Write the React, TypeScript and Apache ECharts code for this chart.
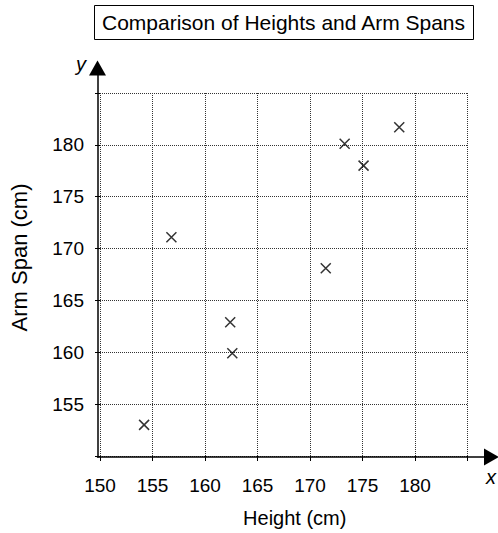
import React, { useEffect, useRef } from "react";
import * as echarts from "echarts";

const chartTitle = "Comparison of Heights and Arm Spans";
const xAxisName = "Height (cm)";
const yAxisName = "Arm Span (cm)";
const heights = [154.2, 156.8, 162.4, 162.6, 171.5, 173.3, 175.1, 178.5];
const armSpans = [153.0, 171.1, 162.9, 159.9, 168.1, 180.1, 178.0, 181.7];
const xRange = [150, 185];
const yRange = [150, 185];
const tickStep = 5;
const hiddenXTicks = [185];
const hiddenYTicks = [150, 185];

const FONT = "'Liberation Sans', Arial, sans-serif";

export default function App() {
  const ref = useRef<HTMLDivElement>(null);
  useEffect(() => {
    if (!ref.current) return;
    const chart = echarts.init(ref.current, null, { renderer: "svg" });
    const points = heights.map((h, i) => [h, armSpans[i]]);
    const gridLine = { show: true, lineStyle: { color: "#333", width: 1, type: [1, 1] } };
    const tick = { show: true, inside: false, length: 5, lineStyle: { color: "#000", width: 1 } };
    const plainAxisLine = {
      show: true,
      onZero: false,
      symbol: ["none", "triangle"],
      symbolSize: [17, 15],
      lineStyle: { color: "#000", width: 1.5 },
    };
    chart.setOption({
      animation: false,
      backgroundColor: "#fff",
      textStyle: { fontFamily: FONT },
      title: {
        text: chartTitle,
        left: 94,
        top: 5,
        padding: [7, 8, 7, 8],
        borderColor: "#000",
        borderWidth: 1,
        textStyle: { fontFamily: FONT, fontSize: 21, fontWeight: "normal", color: "#000" },
      },
      grid: [
        { left: 97.5, top: 93, right: 30.5, bottom: 76, containLabel: false },
        { left: 97.5, top: 68, right: 6.5, bottom: 76, containLabel: false },
      ],
      xAxis: [
        {
          gridIndex: 0,
          type: "value",
          min: xRange[0],
          max: xRange[1],
          interval: tickStep,
          axisLine: { show: false },
          axisTick: tick,
          splitLine: gridLine,
          axisLabel: {
            color: "#000",
            fontSize: 19,
            fontFamily: FONT,
            margin: 20,
            formatter: (v: number) => (hiddenXTicks.includes(v) ? "" : String(v)),
          },
          name: xAxisName,
          nameLocation: "middle",
          nameGap: 52,
          nameMoveOverlap: false,
          nameTextStyle: { color: "#000", fontSize: 20, fontFamily: FONT, padding: [0, 0, 0, 22] },
        },
        {
          gridIndex: 1,
          type: "value",
          min: 0,
          max: 1,
          axisLine: plainAxisLine,
          axisTick: { show: false },
          axisLabel: { show: false },
          splitLine: { show: false },
        },
      ],
      yAxis: [
        {
          gridIndex: 0,
          type: "value",
          min: yRange[0],
          max: yRange[1],
          interval: tickStep,
          axisLine: { show: false },
          axisTick: tick,
          splitLine: gridLine,
          axisLabel: {
            color: "#000",
            fontSize: 19,
            fontFamily: FONT,
            margin: 16,
            formatter: (v: number) => (hiddenYTicks.includes(v) ? "" : String(v)),
          },
          name: yAxisName,
          nameLocation: "middle",
          nameGap: 70,
          nameMoveOverlap: false,
          nameTextStyle: { color: "#000", fontSize: 22, fontFamily: FONT, padding: [0, 0, 0, 34] },
        },
        {
          gridIndex: 1,
          type: "value",
          min: 0,
          max: 1,
          axisLine: plainAxisLine,
          axisTick: { show: false },
          axisLabel: { show: false },
          splitLine: { show: false },
        },
      ],
      graphic: [
        {
          type: "text",
          x: 491,
          y: 476.5,
          style: { text: "x", fontSize: 20, fontStyle: "italic", fontFamily: FONT, fill: "#000", textAlign: "center", textVerticalAlign: "middle" },
        },
        {
          type: "text",
          x: 81,
          y: 63.5,
          style: { text: "y", fontSize: 20, fontStyle: "italic", fontFamily: FONT, fill: "#000", textAlign: "center", textVerticalAlign: "middle" },
        },
      ],
      series: [
        {
          type: "scatter",
          xAxisIndex: 0,
          yAxisIndex: 0,
          data: points,
          symbol: "path://M0,0L10,10M10,0L0,10",
          symbolSize: 10,
          itemStyle: { color: "rgba(0,0,0,0)", borderColor: "#000", borderWidth: 1.5 },
          z: 5,
        },
      ],
    });
    return () => chart.dispose();
  }, []);
  return <div ref={ref} style={{ position: "absolute", left: 0, top: 0, width: 498, height: 533 }} />;
}
